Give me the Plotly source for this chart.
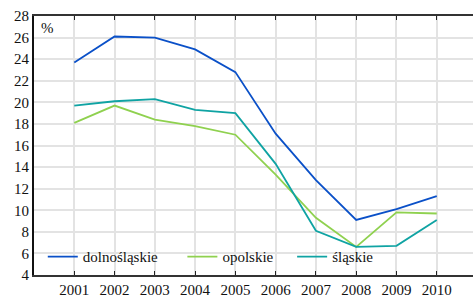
import plotly.graph_objects as go

years = [2001, 2002, 2003, 2004, 2005, 2006, 2007, 2008, 2009, 2010]
dolnoslaskie = [23.7, 26.1, 26.0, 24.9, 22.8, 17.1, 12.8, 9.1, 10.1, 11.3]
opolskie = [18.1, 19.7, 18.4, 17.8, 17.0, 13.3, 9.3, 6.6, 9.8, 9.7]
slaskie = [19.7, 20.1, 20.3, 19.3, 19.0, 14.3, 8.1, 6.6, 6.7, 9.1]
names = ["dolnośląskie", "opolskie", "śląskie"]
colors = ["#0a50c8", "#8fd14f", "#0fa3a3"]
y_ticks = list(range(4, 30, 2))

FONT = "Liberation Serif"

fig = go.Figure()
legends = ["legend", "legend2", "legend3"]
for name, vals, col, lg in zip(names, [dolnoslaskie, opolskie, slaskie], colors, legends):
    fig.add_trace(go.Scatter(x=years, y=vals, mode="lines", name=name,
                             line=dict(color=col, width=1.8), legend=lg))

leg_common = dict(bgcolor="rgba(0,0,0,0)", font=dict(family=FONT, size=15, color="#111"),
                  yanchor="middle", y=0.07, xanchor="left", orientation="h")
fig.update_layout(
    width=473, height=299,
    margin=dict(l=34, r=0, t=16, b=24),
    paper_bgcolor="white", plot_bgcolor="white",
    showlegend=True,
    legend=dict(x=0.02, **leg_common),
    legend2=dict(x=0.338, **leg_common),
    legend3=dict(x=0.588, **leg_common),
    xaxis=dict(range=[2000, 2010.9], tickvals=years, ticktext=[str(y) for y in years],
               showgrid=True, gridcolor="#e3e3e3", gridwidth=1.5,
               showline=True, linecolor="#333", linewidth=2, mirror="ticks",
               ticks="inside", ticklen=4, tickcolor="#222", zeroline=False,
               tickfont=dict(family=FONT, size=15, color="#111")),
    yaxis=dict(range=[4, 28], tickvals=y_ticks, showgrid=True, gridcolor="#e3e3e3", gridwidth=1.5,
               showline=True, linecolor="#111", linewidth=2, zeroline=False,
               ticks="", tickfont=dict(family=FONT, size=15, color="#111")),
    annotations=[dict(text="%", x=0.012, y=0.955, xref="paper", yref="paper",
                      xanchor="left", yanchor="middle", showarrow=False,
                      font=dict(family=FONT, size=15, color="#111"))],
)
fig.write_html("out.html", config={"displayModeBar": False},
               post_script="document.body.style.margin='0px';")
